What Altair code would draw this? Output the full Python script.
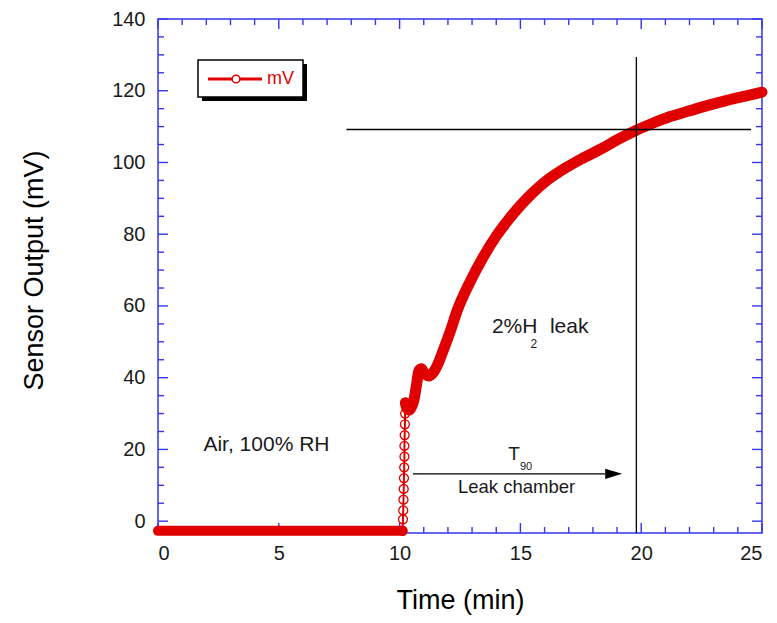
import altair as alt
import pandas as pd

# ---------------- data ----------------
flat_t = [0.0, 10.12]
flat_v = [-2.7, -2.7]

rise_t = [10.12, 10.14, 10.15, 10.16, 10.17, 10.18, 10.19, 10.20, 10.20, 10.21, 10.22, 10.23, 10.24]
rise_v = [-2.7, 0.5, 3.0, 6.0, 9.0, 12.0, 15.0, 18.0, 21.0, 24.0, 27.0, 30.0, 33.0]

curve_t = [10.24, 10.3, 10.4, 10.5, 10.6, 10.7, 10.8, 10.9, 11.0, 11.2, 11.4, 11.6, 11.8,
           12.1, 12.4, 12.9, 13.45, 14.0, 14.5, 15.0, 15.5, 16.0, 16.75, 17.5, 18.4,
           19.0, 19.8, 20.5, 21.2, 22.0, 22.8, 23.6, 24.3, 25.0]
curve_v = [33.0, 31.5, 31.0, 32.0, 34.0, 38.0, 42.0, 42.5, 41.5, 40.5, 41.5, 44.0, 47.5,
           53.0, 59.0, 66.5, 73.5, 79.5, 84.0, 88.0, 91.5, 94.5, 98.0, 100.9, 104.0,
           106.3, 109.0, 111.0, 112.8, 114.4, 116.0, 117.4, 118.5, 119.6]

t90_time = [19.8]
t90_top = [129.4]
level_value = [109.2]
level_start = [7.8]
level_end = [24.55]

arrow_start = [10.55]
arrow_end = [18.5]
arrow_head = [18.86]
arrow_level = [13.2]

x_labels = [0, 5, 10, 15, 20, 25]
x_minor = [i for i in range(0, 26) if i % 5 != 0]
y_labels = [0, 20, 40, 60, 80, 100, 120, 140]
y_minor = [v for v in range(0, 141, 5) if v % 20 != 0]

legend_labels = ["mV"]

ann_air = ["Air, 100% RH"]
ann_air_pos = [4.49, 19.65]
ann_h2 = ["2%H", "2", "leak"]
ann_h2_t = [13.82, 15.42, 16.22]
ann_h2_v = [52.5, 48.4, 52.5]
ann_t90 = ["T", "90"]
ann_t90_t = [14.74, 14.98]
ann_t90_v = [17.0, 14.2]
ann_chamber = ["Leak chamber"]
ann_chamber_pos = [14.84, 7.9]

# ---------------- styling ----------------
W, H = 604, 514
X_DOM = [0, 25]
Y_DOM = [-3.3, 140]
FONT = "Liberation Sans"
RED = "#e00000"
BLUE = "#3535f0"
TXT = "#1a1a1a"

xs = alt.Scale(domain=X_DOM, nice=False, zero=False)
ys = alt.Scale(domain=Y_DOM, nice=False, zero=False)

x_axis = alt.Axis(values=x_labels, title="Time (min)", labelFontSize=20, labelFont=FONT,
                  labelColor=TXT, labelPadding=10, ticks=False, domain=False, grid=False,
                  titleFontSize=27, titleFont=FONT, titleFontWeight="normal",
                  titleColor="black", titlePadding=24)
y_axis = alt.Axis(values=y_labels, title="Sensor Output (mV)", labelFontSize=20, labelFont=FONT,
                  labelColor=TXT, labelPadding=13, ticks=False, domain=False, grid=False,
                  titleFontSize=27, titleFont=FONT, titleFontWeight="normal",
                  titleColor="black", titleX=-124, titleY=H / 2 - 6, titleBaseline="middle")

X = alt.X("t:Q", scale=xs, axis=x_axis, title="Time (min)")
Y = alt.Y("v:Q", scale=ys, axis=y_axis, title="Sensor Output (mV)")

flat_df = pd.DataFrame({"t": flat_t, "v": flat_v})
rise_df = pd.DataFrame({"t": rise_t, "v": rise_v})
curve_df = pd.DataFrame({"t": curve_t, "v": curve_v})

flat = alt.Chart(flat_df).mark_line(color=RED, strokeWidth=10, strokeCap="round").encode(x=X, y=Y)
rise_line = alt.Chart(rise_df).mark_line(color=RED, strokeWidth=2).encode(x=X, y=Y)
rise_pts = alt.Chart(rise_df).mark_point(shape="circle", filled=False, size=80, color=RED,
                                         strokeWidth=1.3, opacity=1).encode(x=X, y=Y)
curve = alt.Chart(curve_df).mark_line(color=RED, strokeWidth=11, strokeCap="round",
                                      strokeJoin="round", interpolate="monotone").encode(x=X, y=Y)

# reference lines
vline = alt.Chart(pd.DataFrame({"t": t90_time, "v": [Y_DOM[0]], "v2": t90_top})).mark_rule(
    color="black", strokeWidth=1.3).encode(x=X, y=Y, y2="v2:Q")
hline = alt.Chart(pd.DataFrame({"t": level_start, "t2": level_end, "v": level_value})).mark_rule(
    color="black", strokeWidth=1.3).encode(x=X, x2="t2:Q", y=Y)

# arrow
arrow_line = alt.Chart(pd.DataFrame({"t": arrow_start, "t2": arrow_end, "v": arrow_level})).mark_rule(
    color="black", strokeWidth=1.3).encode(x=X, x2="t2:Q", y=Y)
arrow_tip = alt.Chart(pd.DataFrame({"t": arrow_head, "v": arrow_level})).mark_point(
    shape="M-1,-0.6L1,0L-1,0.6Z", filled=True, color="black", size=289, opacity=1).encode(x=X, y=Y)

# inward ticks, drawn as rules through the scales; pixel lengths converted to data units
px_x = (X_DOM[1] - X_DOM[0]) / W
px_y = (Y_DOM[1] - Y_DOM[0]) / H

def xticks(values, length):
    d = length * px_y
    bottom = pd.DataFrame({"t": values, "t2": values, "v": [Y_DOM[0]] * len(values),
                           "v2": [Y_DOM[0] + d] * len(values)})
    top = pd.DataFrame({"t": values, "t2": values, "v": [Y_DOM[1]] * len(values),
                        "v2": [Y_DOM[1] - d] * len(values)})
    return [alt.Chart(df).mark_rule(color=BLUE, strokeWidth=1.4).encode(
        x=X, x2="t2:Q", y=Y, y2="v2:Q") for df in (bottom, top)]

def yticks(values, length):
    d = length * px_x
    left = pd.DataFrame({"v": values, "v2": values, "t": [X_DOM[0]] * len(values),
                         "t2": [X_DOM[0] + d] * len(values)})
    right = pd.DataFrame({"v": values, "v2": values, "t": [X_DOM[1]] * len(values),
                          "t2": [X_DOM[1] - d] * len(values)})
    return [alt.Chart(df).mark_rule(color=BLUE, strokeWidth=1.4).encode(
        x=X, x2="t2:Q", y=Y, y2="v2:Q") for df in (left, right)]

tick_layers = xticks(x_labels, 10) + xticks(x_minor, 6) + yticks(y_labels, 10) + yticks(y_minor, 6)

# annotations
def texts(labels, ts, vs, size, align="left"):
    df = pd.DataFrame({"t": ts, "v": vs, "s": labels})
    return alt.Chart(df).mark_text(align=align, baseline="alphabetic", font=FONT,
                                   fontSize=size, color=TXT).encode(x=X, y=Y, text="s:N")

a_air = texts(ann_air, [ann_air_pos[0]], [ann_air_pos[1]], 21, "center")
a_h2_main = texts([ann_h2[0], ann_h2[2]], [ann_h2_t[0], ann_h2_t[2]], [ann_h2_v[0], ann_h2_v[2]], 21)
a_h2_sub = texts([ann_h2[1]], [ann_h2_t[1]], [ann_h2_v[1]], 12)
a_t = texts([ann_t90[0]], [ann_t90_t[0]], [ann_t90_v[0]], 19, "center")
a_90 = texts([ann_t90[1]], [ann_t90_t[1]], [ann_t90_v[1]], 11)
a_ch = texts(ann_chamber, [ann_chamber_pos[0]], [ann_chamber_pos[1]], 18.5, "center")

# legend box (drawn in pixel space of the plot)
leg_df = pd.DataFrame({"s": legend_labels})
leg_shadow = alt.Chart(leg_df).mark_rect(color="black").encode(
    x=alt.value(44), x2=alt.value(149), y=alt.value(45), y2=alt.value(82))
leg_box = alt.Chart(leg_df).mark_rect(fill="white", stroke="black", strokeWidth=1.5).encode(
    x=alt.value(40), x2=alt.value(145), y=alt.value(41), y2=alt.value(78))
leg_line = alt.Chart(leg_df).mark_rule(color=RED, strokeWidth=3).encode(
    x=alt.value(50), x2=alt.value(104), y=alt.value(60))
leg_pt = alt.Chart(leg_df).mark_point(shape="circle", filled=True, fill="white", stroke=RED,
                                      strokeWidth=1.5, size=60, opacity=1).encode(
    x=alt.value(78), y=alt.value(60))
leg_txt = alt.Chart(leg_df).mark_text(align="left", baseline="middle", font=FONT, fontSize=18,
                                      color=RED).encode(x=alt.value(109), y=alt.value(60), text="s:N")

chart = alt.layer(
    *tick_layers,
    flat, curve, rise_line, rise_pts, vline, hline, arrow_line, arrow_tip,
    a_air, a_h2_main, a_h2_sub, a_t, a_90, a_ch,
    leg_shadow, leg_box, leg_line, leg_pt, leg_txt,
).properties(
    width=W, height=H,
    autosize=alt.AutoSizeParams(type="none"),
    padding={"left": 150, "top": 11, "right": 7, "bottom": 82},
).configure_view(stroke=BLUE, strokeWidth=1.5)

chart.save("out.html", embed_options={"renderer": "svg", "actions": False})
